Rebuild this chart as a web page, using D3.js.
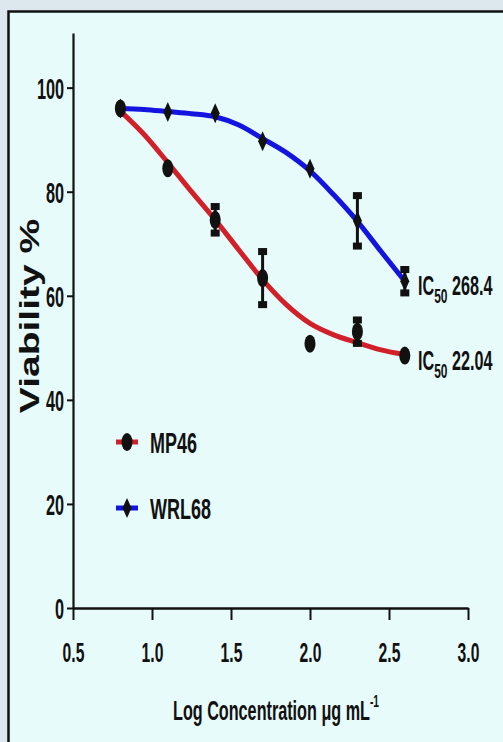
<!DOCTYPE html>
<html>
<head>
<meta charset="utf-8">
<script src="https://cdn.jsdelivr.net/npm/d3@7"></script>
<style>
  body { margin: 0; background: #dde7ee; }
  svg { display: block; }
</style>
</head>
<body>
<div id="canvas"></div>
<script>
const width = 503;
const height = 742;
const SX = 0.6; // the source picture is squeezed sideways
const font = "'Liberation Sans', Arial, sans-serif";

// log concentration of the measured points
const doses = [0.8, 1.1, 1.4, 1.7, 2.0, 2.3, 2.6];
const mp46 = [96.0, 84.5, 74.6, 63.4, 50.8, 53.1, 48.5];
const mp46Err = [0, 0, 2.55, 5.1, 0, 2.25, 0];
const wrl68 = [96.0, 95.3, 95.1, 89.7, 84.4, 74.4, 62.8];
const wrl68Err = [0, 0, 0, 0, 0, 4.85, 2.25];

// fitted curves
const fitDoses = [0.8, 0.95, 1.1, 1.25, 1.4, 1.55, 1.7, 1.85, 2.0, 2.15, 2.3, 2.45, 2.6];
const mp46Fit = [95.5, 91.0, 85.6, 80.0, 74.6, 68.8, 63.1, 58.3, 54.7, 52.5, 51.0, 49.6, 48.7];
const wrl68Fit = [96.0, 95.8, 95.4, 95.0, 94.4, 92.8, 90.2, 87.5, 84.0, 79.4, 74.3, 68.5, 62.8];

const xTicks = [0.5, 1.0, 1.5, 2.0, 2.5, 3.0];
const yTicks = [0, 20, 40, 60, 80, 100];
const seriesNames = ["MP46", "WRL68"];
const ic50Labels = ["268.4", "22.04"];

const red = "#d2202a";
const blue = "#1414e0";

const svg = d3.select("#canvas").append("svg")
  .attr("width", width)
  .attr("height", height);

// panel
svg.append("rect")
  .attr("x", 8.5).attr("y", 11.5)
  .attr("width", 600).attr("height", 800)
  .attr("fill", "#e7fbfb")
  .attr("stroke", "#111").attr("stroke-width", 2.5);

const x = d3.scaleLinear().domain([0.5, 3.0]).range([73, 468]);
const y = d3.scaleLinear().domain([0, 110.5]).range([608, 33]);

// axes
const tickSX = 0.56;
const xAxis = svg.append("g")
  .attr("transform", `translate(0,${y(0)})`)
  .call(d3.axisBottom(x).tickValues(xTicks).tickSize(12).tickSizeOuter(0).tickFormat(d3.format(".1f")));
xAxis.select(".domain").attr("stroke", "#111").attr("stroke-width", 2.5);
xAxis.selectAll(".tick line").attr("stroke", "#111").attr("stroke-width", 2);
xAxis.selectAll(".tick text")
  .attr("y", 54).attr("dy", 0)
  .attr("transform", `scale(${tickSX},1)`)
  .attr("fill", "#111")
  .style("font", `bold 28px ${font}`);

const yAxis = svg.append("g")
  .attr("transform", `translate(${x(0.5)},0)`)
  .call(d3.axisLeft(y).tickValues(yTicks).tickSize(6).tickSizeOuter(0));
yAxis.select(".domain").attr("stroke", "#111").attr("stroke-width", 2.2);
yAxis.selectAll(".tick line").attr("stroke", "#111").attr("stroke-width", 2);
yAxis.selectAll(".tick text")
  .attr("x", -9 / tickSX).attr("dy", "0.36em")
  .attr("transform", `scale(${tickSX},1)`)
  .attr("fill", "#111")
  .style("font", `bold 29px ${font}`);

// axis titles
svg.append("text")
  .attr("transform", "translate(39,316) scale(0.72,1) rotate(-90)")
  .attr("text-anchor", "middle")
  .attr("fill", "#111")
  .style("font", `bold 39px ${font}`)
  .text("Viability %");

const xTitle = svg.append("text")
  .attr("transform", `translate(276,720) scale(${SX},1)`)
  .attr("text-anchor", "middle")
  .attr("fill", "#111")
  .style("font", `bold 27px ${font}`);
xTitle.append("tspan").text("Log Concentration \u03bcg mL");
xTitle.append("tspan").attr("dy", -13).style("font-size", "17px").text("-1");

// fitted curves
const line = d3.line()
  .x((d, i) => x(fitDoses[i]))
  .y((d) => y(d))
  .curve(d3.curveMonotoneX);

svg.append("path").datum(mp46Fit)
  .attr("d", line).attr("fill", "none")
  .attr("stroke", red).attr("stroke-width", 5);
svg.append("path").datum(wrl68Fit)
  .attr("d", line).attr("fill", "none")
  .attr("stroke", blue).attr("stroke-width", 5);

// error bars
function errorBars(values, errs) {
  const g = svg.append("g");
  values.forEach((v, i) => {
    if (!errs[i]) return;
    const cx = x(doses[i]);
    g.append("line")
      .attr("x1", cx).attr("x2", cx)
      .attr("y1", y(v + errs[i])).attr("y2", y(v - errs[i]))
      .attr("stroke", "#111").attr("stroke-width", 3);
    [v + errs[i], v - errs[i]].forEach((e) => {
      g.append("rect")
        .attr("x", cx - 4.5).attr("y", y(e) - 3.5)
        .attr("width", 9).attr("height", 7)
        .attr("fill", "#111");
    });
  });
}
errorBars(mp46, mp46Err);
errorBars(wrl68, wrl68Err);

// markers
const diamond = (cx, cy) => `M${cx},${cy - 10}L${cx + 4.5},${cy}L${cx},${cy + 10}L${cx - 4.5},${cy}Z`;

svg.append("g").selectAll("path")
  .data(wrl68)
  .join("path")
  .attr("d", (d, i) => diamond(x(doses[i]), y(d)))
  .attr("fill", "#111");

svg.append("g").selectAll("ellipse")
  .data(mp46)
  .join("ellipse")
  .attr("cx", (d, i) => x(doses[i]))
  .attr("cy", (d) => y(d))
  .attr("rx", 5.5).attr("ry", 9)
  .attr("fill", "#111");

// IC50 labels
function ic50(value, yPos) {
  const t = svg.append("text")
    .attr("transform", `translate(418,${yPos}) scale(${SX},1)`)
    .attr("fill", "#111")
    .style("font", `bold 27px ${font}`);
  t.append("tspan").text("IC");
  t.append("tspan").attr("dy", 8).style("font-size", "20px").text("50");
  t.append("tspan").attr("dy", -8).text(" " + value);
}
ic50(ic50Labels[0], 295);
ic50(ic50Labels[1], 370);

// legend
const legendY = [442, 508];
const legendColors = [red, blue];
seriesNames.forEach((name, i) => {
  const ly = legendY[i];
  svg.append("line")
    .attr("x1", 116).attr("x2", 138)
    .attr("y1", ly).attr("y2", ly)
    .attr("stroke", legendColors[i]).attr("stroke-width", 5);
  if (i === 0) {
    svg.append("ellipse").attr("cx", 127).attr("cy", ly)
      .attr("rx", 5.5).attr("ry", 9).attr("fill", "#111");
  } else {
    svg.append("path").attr("d", diamond(127, ly)).attr("fill", "#111");
  }
  svg.append("text")
    .attr("transform", `translate(150,${ly + 11}) scale(${SX},1)`)
    .attr("fill", "#111")
    .style("font", `bold 30px ${font}`)
    .text(name);
});
</script>
</body>
</html>
